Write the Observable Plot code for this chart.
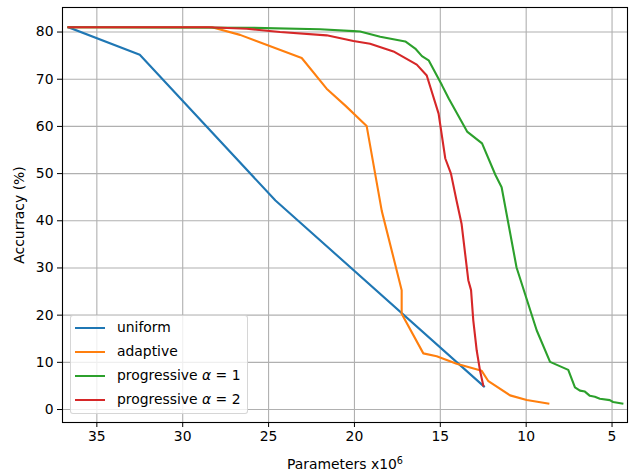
<!DOCTYPE html>
<html>
<head>
<meta charset="utf-8">
<script src="https://cdn.jsdelivr.net/npm/d3@7"></script>
<script src="https://cdn.jsdelivr.net/npm/@observablehq/plot@0.6"></script>
<style>
  html, body { margin: 0; padding: 0; background: white; }
  #wrap { position: relative; width: 636px; height: 471px; font-family: "DejaVu Sans", sans-serif; }
  #legend { position: absolute; left: 70px; top: 315px; width: 176px; height: 97px;
    border: 1px solid rgba(204,204,204,0.8); border-radius: 3px; background: rgba(255,255,255,0.8);
    box-sizing: content-box; font-size: 13.9px; color: #000; }
  .row { position: relative; height: 24px; }
  .sw { position: absolute; left: 4px; top: 11px; width: 30px; height: 2px; }
  .lb { position: absolute; left: 46px; top: 3px; white-space: nowrap; line-height: 17px; }
</style>
</head>
<body>
<div id="wrap"></div>
<script>
// ---- data ----
const seriesNames = ["uniform", "adaptive", "progressive α = 1", "progressive α = 2"];
const seriesColors = ["#1f77b4", "#ff7f0e", "#2ca02c", "#d62728"];

const uniformX = [36.65, 32.5, 24.6, 12.46];
const uniformY = [81.0, 75.2, 44.3, 4.9];

const adaptiveX = [36.65, 28.3, 26.66, 23.07, 21.62, 20.5, 19.29, 18.41, 17.25, 17.25, 15.99, 15.21, 14.05, 12.59, 12.2, 10.94, 9.97, 8.71];
const adaptiveY = [81.0, 81.0, 79.4, 74.5, 68.0, 64.3, 60.1, 42.1, 25.3, 20.3, 11.9, 11.3, 9.7, 8.2, 6.0, 3.0, 2.0, 1.27];

const prog1X = [36.65, 26, 22, 20.06, 19.67, 18.5, 17.04, 16.46, 16.07, 15.68, 14.9, 14.51, 13.44, 12.57, 11.79, 11.43, 10.56, 9.39, 8.61, 7.55, 7.16, 6.87, 6.58, 6.29, 6.0, 5.71, 5.13, 4.94, 4.4];
const prog1Y = [81.0, 80.9, 80.6, 80.2, 80.1, 79.0, 78.0, 76.5, 74.9, 74.0, 68.7, 65.9, 58.9, 56.4, 49.7, 47.1, 30.1, 16.8, 10.1, 8.4, 4.7, 4.0, 3.8, 2.9, 2.7, 2.3, 2.0, 1.6, 1.27];

const prog2X = [36.65, 28.5, 26.27, 24.33, 21.62, 20.06, 19.09, 17.73, 16.37, 15.79, 15.1, 14.71, 14.38, 14.05, 13.76, 13.37, 13.21, 13.08, 12.88, 12.69, 12.5];
const prog2Y = [81.0, 81.0, 80.7, 80.0, 79.3, 78.1, 77.5, 75.9, 73.1, 70.8, 62.7, 53.2, 50.0, 44.2, 39.3, 27.4, 25.3, 18.9, 12.5, 8.3, 5.1];

const xTicks = [35, 30, 25, 20, 15, 10, 5];
const yTicks = [0, 10, 20, 30, 40, 50, 60, 70, 80];
const xLabel = "Parameters x10";
const xLabelSup = "6";
const yLabel = "Accurracy (%)";

// ---- build table ----
const seriesXs = [uniformX, adaptiveX, prog1X, prog2X];
const seriesYs = [uniformY, adaptiveY, prog1Y, prog2Y];
const rows = seriesNames.flatMap((name, k) => seriesXs[k].map((x, i) => ({series: name, x, y: seriesYs[k][i]})));

const gridStyle = {stroke: "#b0b0b0", strokeOpacity: 1, strokeWidth: 1.1};

const chart = Plot.plot({
  width: 636, height: 471,
  marginLeft: 62, marginRight: 9, marginTop: 7, marginBottom: 49,
  style: {fontFamily: "DejaVu Sans, sans-serif", fontSize: "13.9px", background: "white", color: "black"},
  x: {domain: [37, 4.1]},
  y: {domain: [-2.75, 85.2]},
  color: {domain: seriesNames, range: seriesColors},
  marks: [
    Plot.gridX(xTicks, gridStyle),
    Plot.gridY(yTicks, gridStyle),
    Plot.line(rows, {x: "x", y: "y", z: "series", stroke: "series", strokeWidth: 2.1, strokeLinejoin: "round", strokeLinecap: "square"}),
    Plot.frame({stroke: "black", strokeWidth: 1.1}),
    Plot.axisX(xTicks, {tickSize: 5, tickPadding: 4, label: xLabel, labelAnchor: "center", labelArrow: "none", labelOffset: 46}),
    Plot.axisY(yTicks, {tickSize: 5, tickPadding: 4, label: yLabel, labelAnchor: "center", labelArrow: "none", labelOffset: 48})
  ]
});

// superscript on x label
chart.querySelectorAll("text").forEach(t => {
  if (t.textContent === xLabel) {
    const ts = document.createElementNS("http://www.w3.org/2000/svg", "tspan");
    ts.setAttribute("dy", "-0.45em");
    ts.setAttribute("font-size", "9.7px");
    ts.textContent = xLabelSup;
    t.appendChild(ts);
  }
});

const wrap = document.getElementById("wrap");
wrap.appendChild(chart);

// legend overlay
const legend = document.createElement("div");
legend.id = "legend";
seriesNames.forEach((name, k) => {
  const row = document.createElement("div");
  row.className = "row";
  const sw = document.createElement("span");
  sw.className = "sw";
  sw.style.background = seriesColors[k];
  const lb = document.createElement("span");
  lb.className = "lb";
  lb.innerHTML = name.replace("α", "<i>α</i>");
  row.appendChild(sw);
  row.appendChild(lb);
  legend.appendChild(row);
});
wrap.appendChild(legend);
</script>
</body>
</html>
